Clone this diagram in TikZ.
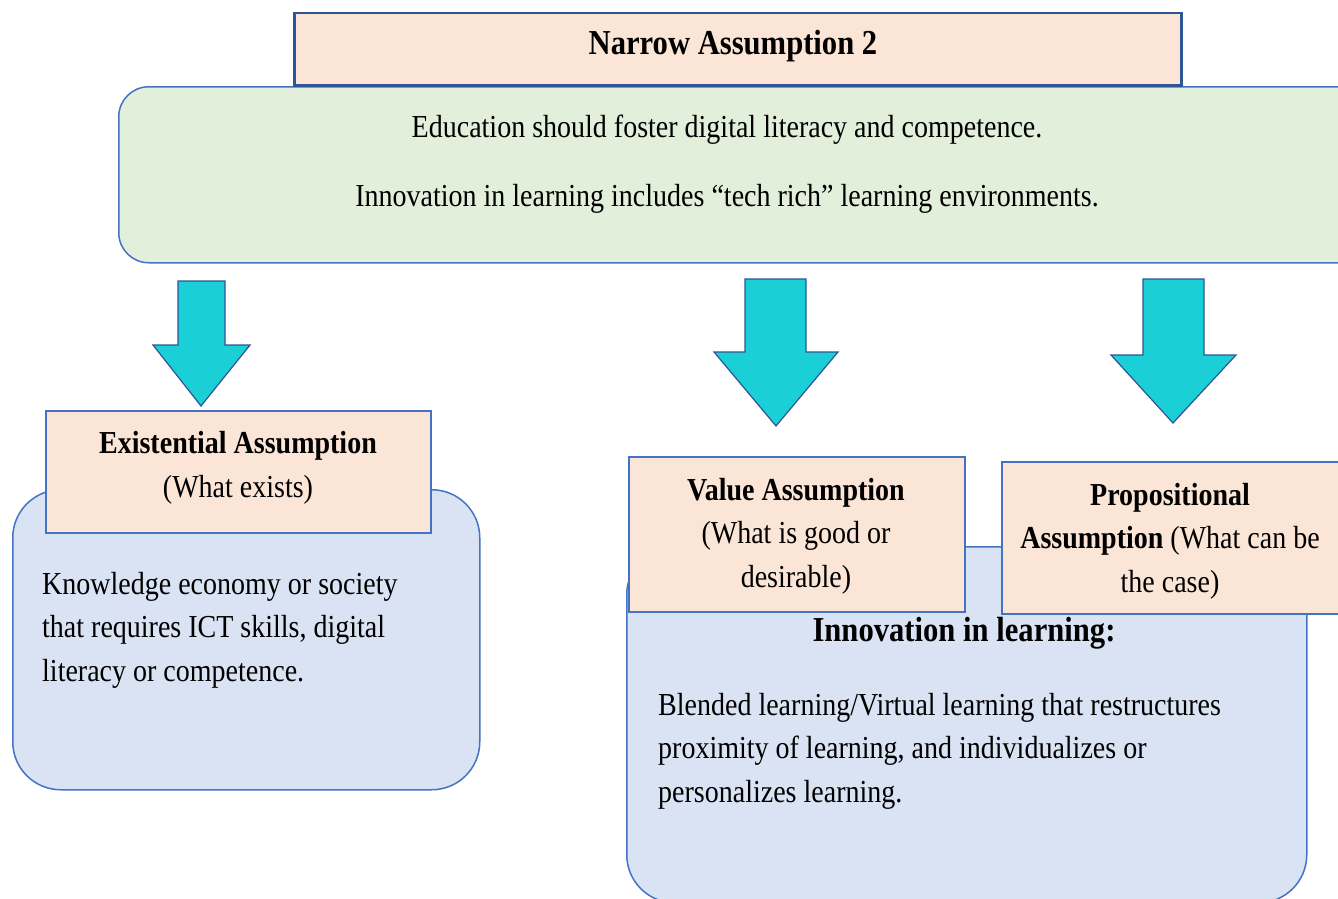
\documentclass[tikz,border=0pt]{standalone}
\usepackage{fontspec}
\setmainfont[FakeStretch=0.875]{Liberation Serif}
\definecolor{peach}{HTML}{FBE5D6}
\definecolor{mint}{HTML}{E2EFDA}
\definecolor{paleblue}{HTML}{DAE3F3}
\definecolor{edgeblue}{HTML}{4472C4}
\definecolor{darkedge}{HTML}{2F5597}
\definecolor{arrowcyan}{HTML}{1BCFD6}
\tikzset{
  box/.style={draw=edgeblue, line width=1.5pt, inner sep=0pt, anchor=north west},
  peachbox/.style={box, fill=peach, rectangle},
  greenbox/.style={box, fill=mint, rounded corners=30pt},
  bluebox/.style={box, fill=paleblue, rounded corners=48pt},
  txt/.style={inner sep=0pt, font=\fontsize{32}{43.5}\selectfont},
  bigbold/.style={inner sep=0pt, font=\fontsize{35}{43.5}\selectfont\bfseries},
  downarrow/.style={fill=arrowcyan, draw=darkedge, line width=1.2pt, line join=miter}
}
\begin{document}
\begin{tikzpicture}[x=1pt,y=-1pt]
\useasboundingbox (0,0) rectangle (1338,899);
\clip (0,0) rectangle (1338,899);
\fill[white] (0,0) rectangle (1338,899);

% green box and title
\node[greenbox, minimum width=1250pt, minimum height=176pt] (green) at (118,86) {};
\node[peachbox, draw=darkedge, line width=2.5pt, minimum width=887pt, minimum height=72pt] (top) at (293,12) {};
\node[bigbold] (toptxt) at (733,46) {Narrow Assumption 2};
\node[txt] (g1) at (727,130) {Education should foster digital literacy and competence.};
\node[txt] (g2) at (727,199) {Innovation in learning includes “tech rich” learning environments.};

% arrows
\draw[downarrow] (178,281) -- (225,281) -- (225,345) -- (250,345) -- (201,406) -- (153,345) -- (178,345) -- cycle;
\draw[downarrow] (745,279) -- (806,279) -- (806,352) -- (838,352) -- (776,426) -- (714,352) -- (745,352) -- cycle;
\draw[downarrow] (1143,279) -- (1204,279) -- (1204,355) -- (1236,355) -- (1173,423) -- (1111,355) -- (1143,355) -- cycle;

% left group
\node[bluebox, minimum width=467pt, minimum height=300pt] (leftbox) at (12,489) {};
\node[peachbox, minimum width=385pt, minimum height=122pt] (exist) at (45,410) {};
\node[txt, align=center] (existtxt) at (238,468) {\textbf{Existential Assumption}\\(What exists)};
\node[txt, align=left, anchor=west] (lefttxt) at (42,630) {Knowledge economy or society\\that requires ICT skills, digital\\literacy or competence.};

% right group
\node[bluebox, minimum width=680pt, minimum height=356pt] (midbox) at (626,546) {};
\node[peachbox, minimum width=336pt, minimum height=155pt] (value) at (628,456) {};
\node[peachbox, minimum width=360pt, minimum height=152pt] (prop) at (1001,461) {};
\node[txt, align=center] (valuetxt) at (796,536) {\textbf{Value Assumption}\\(What is good or\\desirable)};
\node[txt, align=center] (proptxt) at (1170,541) {\textbf{Propositional}\\\textbf{Assumption} (What can be\\the case)};
\node[bigbold] (innov) at (964,633) {Innovation in learning:};
\node[txt, align=left, anchor=west] (blend) at (658,751) {Blended learning/Virtual learning that restructures\\proximity of learning, and individualizes or\\personalizes learning.};
\end{tikzpicture}
\end{document}
